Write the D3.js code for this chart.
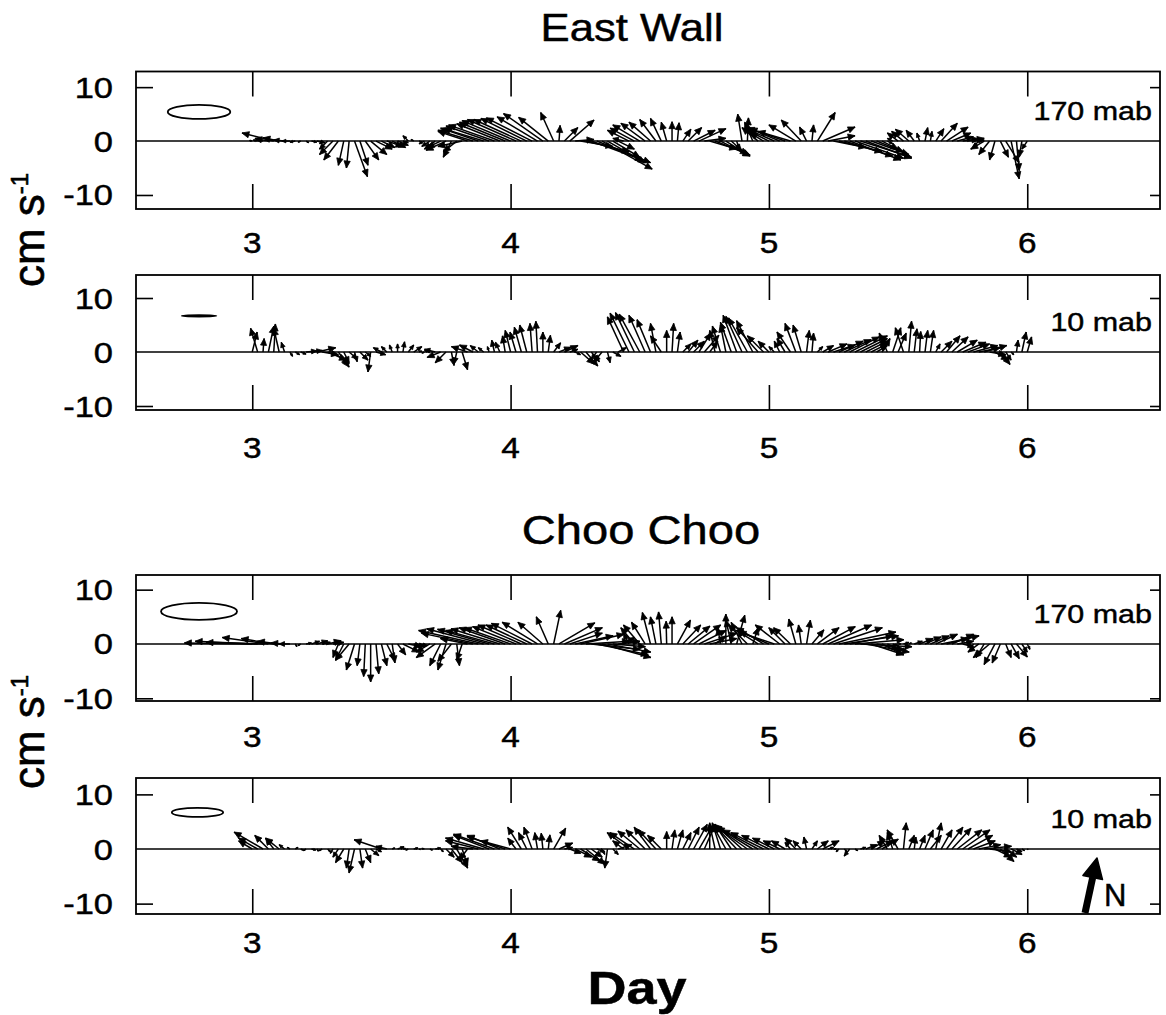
<!DOCTYPE html>
<html><head><meta charset="utf-8">
<script src="https://cdn.jsdelivr.net/npm/d3@7"></script>
<style>body{margin:0;background:#fff} svg{display:block}</style>
</head><body>
<svg id="chart" width="1166" height="1015"></svg>
<script>
// ---------- data ----------
const dayTicks = [3, 4, 5, 6];
const yTickValues = [10, 0, -10];
const startDay = 3;          // first sample (day)
const stepHours = 0.5;       // sampling interval
const siteTitles = ["East Wall", "Choo Choo"];
const depthLabels = ["170 mab", "10 mab", "170 mab", "10 mab"];
// variance-ellipse semi axes (cm/s)
const ellipseMajor = [5.8, 3.2, 7.0, 4.7];
const ellipseMinor = [1.3, 0.1, 1.56, 0.83];

// East Wall 170 mab : east (u) and north (v) velocity, cm/s
const ew170U = [-0.5,-0.8,-1.2,-2.5,-5.9,-3,-2,-1.5,-1,-0.5,0.5,1,1.5,-0.5,-1.5,-2.5,-2.7,-1,-0.5,2.4,1.5,2.5,3,3,2.5,3,2.5,2,1,-1,-0.5,0.5,-1,-1.5,-2,-2.5,-3.7,-1.5,-2.5,-4.5,-5.5,-6.5,-7,-7.5,-8,-8.5,-8,-8.5,-9,-9,-8.8,-8.5,-8.5,-7.5,-7.3,-5.5,-2.4,0.2,2.5,4.5,3.5,6,8,9.5,10,9.3,7,5,3,-2,-4,-4.5,-5,-4.5,-4,-3,-2,-1,0,0.3,1.5,2.5,4,5,4,5,6.5,5.5,4,2,0.5,-0.8,0.2,-1.5,-3,-2.5,-4,-5,-6,-6.5,-6,-5,-3.7,-1.3,0.3,3.3,6,5,6,8,9,9.5,9,9.5,8.5,7,5,3,1,-1,-2,-2.2,-2.5,-1.5,-0.5,0.5,0.3,1.5,3,4,3.5,3,3,3,2,-1,-2.5,-2,-1,1.5,2.5,1.5,0.5,-0.5,-1];
const ew170V = [0.1,0.2,0.3,0.5,1.5,0.6,0.2,0,-0.2,-0.2,-0.3,-0.2,-0.3,-0.5,-1.5,-2.5,-3.5,-4.5,-5,-6.6,-4.5,-3.5,-2.5,-1.5,-1.2,-1,-1.2,-0.8,-0.3,1,0.3,-0.2,-0.5,-1,-1.5,-1.2,-1.7,-3,-2,-1,1.8,2,2.4,2.3,2.8,3,3.2,3.5,3.8,4,4,4.2,4.3,4.5,5.1,4.4,5.3,2.9,2.5,3.9,0.3,-1,-2,-3.5,-4,-5.2,-4,-3,-1.5,0.5,2,2.4,3,3.3,3.5,4,4.2,3.5,3.6,3.4,2.2,2.5,2,2.3,0.5,-1.5,-2.6,-2.8,-2.5,-1.8,-1.5,5,4.3,3.5,2.5,1.5,2,2.2,2.5,2.3,1.8,3,3.9,2.6,3,5.3,2.6,1,-1.2,-2,-2.8,-3.5,-3.2,-3,-3.2,-2.5,-2,-1.5,-0.5,0.5,1.5,1.8,2.2,2,1.5,2.5,1.8,2.3,3.3,2.6,1.5,0.8,0.4,0.5,0.2,-1,-1.5,-2.5,-3.5,-3,-4,-7,-5.5,-3,-1.5];

// East Wall 10 mab
const ew10U = [0.9,-1.3,0.2,1,0.3,-1,-0.6,0.5,0.8,1,2,2,3.5,3,3.5,3,2,1,1.5,0.5,1.5,1,-0.5,1.8,-1.5,-1,-0.5,0,0.3,1,1.5,0.5,-0.5,-1,-2,-2.5,-2,0.5,-0.5,1,-3,-2.5,-1.5,-1,-0.3,-0.5,-0.8,-0.5,-1,-1.1,-1.3,-1.3,-0.4,-0.3,0,0.4,1.3,2.2,2.5,1.5,1,2.5,2.2,1.5,-1,-1.5,0.5,1.5,1.5,-3,-3.5,-3.5,-3.8,-3,-2.5,-1,-2,0,0.3,0.5,1.5,1.8,2,2.2,2.7,1.5,-1,-1.5,-1,-2,-2.5,-3,-3.5,-3,-4,-3,-2,-1,-1,-1.5,-2.5,-2,-1.5,0.5,0.3,1,2,3.5,4,4.5,5,5.5,6,5,4,3,2,1.5,-1.5,1.5,1.5,-1.5,0.5,0.5,0.2,0.5,0.6,0.8,2,2.5,3,3.7,4.3,4,4.5,4,4.2,3,2.5,1.8,1,0.5,0.3,0.8,0.8];
const ew10V = [3.7,4.4,2.5,4.8,5.2,4.4,1.8,-0.8,-0.5,-0.4,0.2,0.3,0.8,-0.5,-1.5,-2.2,-2.8,-2,-1.3,-1.8,-1.5,-0.8,-3.7,-0.5,0.8,1,1.3,1.5,1.9,1.3,1,0.2,-0.2,0.3,0.5,-1,-2,-2.5,-2.2,-3.3,1,1.3,1.2,0.8,1,2.2,1.8,3,4,3.7,4.6,5,5.3,5.7,3.7,3.1,1.7,0.9,1.2,0.5,-0.5,-2.2,-2.6,-1.8,-1.3,-1.8,-2,-0.8,0.8,6.5,7.2,7.3,7,6.8,6,5.3,3,4,5.3,3.7,1.5,2.2,2,3.5,3.1,2,4,4.8,5,5.5,6.8,6.6,6.3,5.8,4.5,3,2,1,2,2.5,3.7,5.3,5,4,3.5,1,1.2,1.5,1.3,2,2.3,2.8,3,2.5,2,1.5,1.2,2.5,3.5,4.5,3.5,4.5,5.7,4.3,3.8,4,4,1.5,2,3,2.8,2.2,1.8,1.5,1.2,0.8,1.2,-0.5,-1.5,-2.3,-1.5,-0.5,2.2,3.7,2.8];

// Choo Choo 170 mab
const cc170U = [-12.5,-11.5,-10.5,-8.5,-6,-4,-2.5,-2,0.3,-0.5,1,1.5,2,1.5,2.5,2,-1,-1.5,-2.5,-1.5,-0.5,-0.3,0,0.5,1,1.5,0.5,1.5,3,2.5,2,1.5,-1,-2.5,-3.5,-2,-1.5,-2.5,0.5,-1,-5,-9.5,-11,-10.5,-9.5,-9,-9,-8.5,-8.5,-8,-8,-7.5,-7.5,-6.5,-4.6,-2.2,1.3,6.6,7,6,7,8,8,9,9.5,9,8,6,4,2,-1,-2.5,-3,-2.5,-1.5,-1,-0.5,-0.1,0,2.4,3.3,4,5,5,6,5,2,-0.5,0,-1,1.5,-2,-3.5,1,-4,-5,-6,-6.5,-4.5,-3,-3.1,-1.3,-0.5,0.7,2.2,4,6,8,9,10.5,10,8,9,9.5,8,6,5,4,2,1,0.5,1,0.5,1.5,2.5,3,3.5,4,5,6,4,3,2,1,-0.5,-2,-1.5,-3,-2,-1.5,1,1.5,2,1,0.5];
const cc170V = [0.2,0.5,0.3,1.2,1,0.5,0.2,0,-0.5,-0.3,0.2,0.5,0.6,0.3,0.6,0.3,-2.5,-3,-3,-4.8,-4,-6,-7,-5.5,-4,-3,-3.5,-2,-1.5,-0.5,-0.5,-0.3,-0.5,-1.5,-2.5,-4,-4.8,-3.2,-4,-3,1,2,2.5,2.8,2.7,2.5,2.8,3,3,3.2,3.5,3.5,3.8,4,4,5,6.2,3.9,3,2,1.5,1.8,0.5,-1,-2,-2.5,-1.5,-0.5,0.5,1.2,2,3,3.5,4,5.8,5,5.9,4.2,5,4.4,3.5,3.3,3.5,2.5,2,1,1.5,3,5.5,4.5,5.3,4,3.5,3,2.5,3,2.5,2.2,3.5,3,3,4.6,3.5,4.4,2.6,3,3.2,3.5,3,2.2,1.5,1.5,0.8,-0.5,-1.5,-2,-1,-2,-1,-0.3,0,0.3,0.2,0.5,1,1.3,1.5,1.8,1,1.5,1.8,0.5,-0.5,-1,-1,-1.5,-2.5,-2.5,-3.8,-3.5,-2.5,-2.7,-2.4,-1.5,-1];

// Choo Choo 10 mab
const cc10U = [-2.5,-3.5,-5.3,-2.5,-1.5,-2.5,-1,-0.5,0.5,0.5,-0.5,0.8,0.3,-0.6,0.5,-0.5,-1,-1.5,-0.5,-1,0.5,1,1.5,1,-5,-2,0.5,1.2,0.5,-0.5,0.8,0.3,-0.5,0.5,1,0.5,1.5,2,2,1,-1.5,-4,-6,-7,-6.5,-7.5,-6,-7,-5.5,-1.5,-2.5,-1.5,-1.5,-0.5,-0.3,0.3,2.2,2.5,1.5,2,3,3.5,3.5,2,1.5,0.5,-0.5,1,2.5,-2,-4,-4.5,-4,-3.5,-3,-3.2,-2.5,0,0.5,1,1.5,2,2.5,2.5,2,0,-1,-1.5,-2.5,-3,-4,-5,-6,-6.5,-6.5,-6,-5,-4,-3,-2.5,-1,-2,-1.5,-0.5,1,2,3,1,0.5,-0.5,0.5,-1,0.5,1,2,2.5,3,3,-1.5,-1,-2,0.5,1,0.3,1,1.5,2,1,2,3,3.5,4.5,5,4.5,4,4,5,4,3,2.5,2,2,1,0.5,0.2];
const cc10V = [1.5,2,3.1,2.5,2,2,0.8,0.3,0.3,-0.2,-0.3,-0.2,-0.4,-0.3,-0.5,-0.8,-1.5,-2.5,-3.5,-4.4,-3.5,-2.5,-1.2,-0.5,1.7,0.5,0.2,0.4,0.1,-0.2,0.2,-0.1,0.1,-0.2,0.2,-0.5,-1.5,-2.5,-3.5,-3,-2,0.5,1.5,2,2.5,2.7,2.5,2.3,1.5,2,4,3,4,3,2.9,2.6,3.8,1.1,0.3,-0.8,-1.5,-2.2,-2.8,-1.5,-0.5,-1,-3.5,-1,0.8,1.5,3,3,3.3,3.5,4,3.5,2.5,3.2,3.5,3.5,3,4,4.5,4.3,4.5,4.8,4.5,4.8,4.5,4.5,4.3,4.5,4.3,4,3.5,3,2.5,2,1.5,1.5,1.2,2,1.5,2.2,1.5,1.5,1.5,0.3,0,-0.5,-0.5,-1.3,-0.3,0.3,0.8,1.5,1.5,1.8,2.5,3,3.5,4.8,2.5,2.2,2.5,3.5,2.5,4.8,3.5,4,3.8,3.5,3.5,2.5,1.5,0.8,0.5,-0.5,-1.5,-2.3,-1.5,-1,-0.5,-0.3,-0.1];

const seriesU = [ew170U, ew10U, cc170U, cc10U];
const seriesV = [ew170V, ew10V, cc170V, cc10V];

// ---------- layout ----------
const FONT = "'Liberation Sans', Arial, Helvetica, sans-serif";
const SX = 1.15; // horizontal stretch of the original lettering
const xLeft = 136, xRight = 1160;
const panels = [
  {top: 71.5, bottom: 209, yMin: -12.6, yMax: 12.9, labelY: 243, ell: [2.794, 5.4]},
  {top: 275, bottom: 410, yMin: -10.74, yMax: 14.26, labelY: 448, ell: [2.794, 6.7]},
  {top: 575, bottom: 701, yMin: -10.5, yMax: 12.7, labelY: 737, ell: [2.794, 6.0]},
  {top: 778, bottom: 914, yMin: -11.9, yMax: 13.0, labelY: 943, ell: [2.788, 6.7]}
];

const svg = d3.select("#chart");
const x = d3.scaleLinear().domain([2.55, 6.51]).range([136, 1159]);

function stretchedText(g, px, py, txt, size, anchor, weight, sx) {
  const t = g.append("g").attr("transform", `translate(${px},${py}) scale(${sx || SX},1)`)
    .append("text").attr("x", 0).attr("y", 0)
    .attr("font-family", FONT).attr("font-size", size)
    .attr("text-anchor", anchor).attr("fill", "#000")
    .attr("stroke", "#000").attr("stroke-width", 0.45);
  if (weight) t.attr("font-weight", weight);
  t.text(txt);
  return t;
}

panels.forEach((p, pi) => {
  const y = d3.scaleLinear().domain([p.yMin, p.yMax]).range([p.bottom, p.top]);
  const g = svg.append("g");
  const k = y(0) - y(1);

  // frame
  g.append("rect").attr("x", xLeft).attr("y", p.top)
    .attr("width", xRight - xLeft).attr("height", p.bottom - p.top)
    .attr("fill", "none").attr("stroke", "#000").attr("stroke-width", 1.8);

  // inward day ticks, top and bottom
  const axTopTicks = d3.axisBottom(x).tickValues(dayTicks).tickSize(25).tickFormat("");
  g.append("g").attr("transform", `translate(0,${p.top})`).call(axTopTicks)
    .call(a => { a.select(".domain").remove(); a.selectAll("line").attr("stroke-width", 1.6); });
  const axBotTicks = d3.axisTop(x).tickValues(dayTicks).tickSize(25).tickFormat("");
  g.append("g").attr("transform", `translate(0,${p.bottom})`).call(axBotTicks)
    .call(a => { a.select(".domain").remove(); a.selectAll("line").attr("stroke-width", 1.6); });

  // day labels
  const dl = g.append("g");
  dayTicks.forEach(d => stretchedText(dl, x(d), p.labelY + 10, d, 29, "middle"));

  // y ticks inward left / right (10 and -10)
  const yt = yTickValues.filter(v => v !== 0);
  g.append("g").attr("transform", `translate(${xLeft},0)`)
    .call(d3.axisRight(y).tickValues(yt).tickSize(17).tickFormat(""))
    .call(a => { a.select(".domain").remove(); a.selectAll("line").attr("stroke-width", 1.6); });
  g.append("g").attr("transform", `translate(${xRight},0)`)
    .call(d3.axisLeft(y).tickValues(yt).tickSize(10).tickFormat(""))
    .call(a => { a.select(".domain").remove(); a.selectAll("line").attr("stroke-width", 1.6); });

  // y labels
  const yl = g.append("g");
  yTickValues.forEach(v => stretchedText(yl, 113, y(v) + 10.5, v, 30, "end", null, 1.15));

  // zero line
  g.append("line").attr("x1", xLeft).attr("x2", xRight)
    .attr("y1", y(0)).attr("y2", y(0)).attr("stroke", "#000").attr("stroke-width", 1.6);

  // depth label
  stretchedText(g, 1152, y(0) - 21, depthLabels[pi], 26.5, "end");

  // variance ellipse
  g.append("ellipse").attr("cx", x(p.ell[0])).attr("cy", y(p.ell[1]))
    .attr("rx", ellipseMajor[pi] * k).attr("ry", Math.max(0.7, ellipseMinor[pi] * k))
    .attr("fill", "none").attr("stroke", "#000").attr("stroke-width", 1.8);

  // stick vectors
  const U = seriesU[pi], V = seriesV[pi];
  const data = U.map((u, i) => ({t: startDay + i * stepHours / 24, u, v: V[i]}));
  const arr = g.append("g");
  data.forEach(d => {
    const x0 = x(d.t), y0 = y(0);
    const x1 = x0 + d.u * k, y1 = y0 - d.v * k;
    const len = Math.hypot(x1 - x0, y1 - y0);
    arr.append("line").attr("x1", x0).attr("y1", y0).attr("x2", x1).attr("y2", y1)
      .attr("stroke", "#000").attr("stroke-width", 1.5);
    if (len > 2) {
      const hl = Math.min(7, len * 0.5), hw = hl * 0.45;
      const ux = (x1 - x0) / len, uy = (y1 - y0) / len;
      const bx = x1 - ux * hl, by = y1 - uy * hl;
      arr.append("path")
        .attr("d", `M${x1},${y1}L${bx - uy * hw},${by + ux * hw}L${bx + uy * hw},${by - ux * hw}Z`)
        .attr("fill", "#000").attr("stroke", "#000").attr("stroke-width", 0.8);
    }
  });
});

// titles
stretchedText(svg, 632, 41, siteTitles[0], 38, "middle");
stretchedText(svg, 641, 544, siteTitles[1], 41, "middle");

// y-axis unit labels
[230, 732].forEach(cy => {
  const t = svg.append("g").attr("transform", `translate(44,${cy}) rotate(-90)`)
    .append("text").attr("text-anchor", "middle").attr("font-family", FONT)
    .attr("font-size", 44).attr("fill", "#000").attr("stroke", "#000").attr("stroke-width", 0.6);
  t.append("tspan").text("cm s");
  t.append("tspan").attr("dy", -16).attr("font-size", 24).text("-1");
});

// x-axis title
stretchedText(svg, 637, 1004, "Day", 47, "middle", "bold");

// north arrow
svg.append("line").attr("x1", 1085).attr("y1", 913).attr("x2", 1092.7).attr("y2", 877.5)
  .attr("stroke", "#000").attr("stroke-width", 7);
svg.append("path").attr("d", "M1097,858L1082.9,875.4L1102.5,879.6Z")
  .attr("fill", "#000").attr("stroke", "#000").attr("stroke-width", 1.5).attr("stroke-linejoin", "round");
stretchedText(svg, 1104, 906, "N", 31, "start", null, 1.0);
</script>
</body></html>
